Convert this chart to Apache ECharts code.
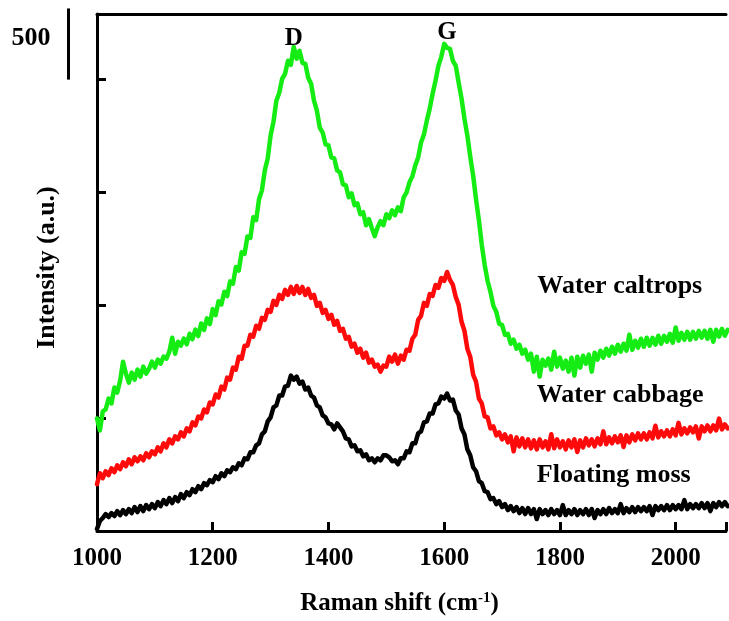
<!DOCTYPE html>
<html>
<head>
<meta charset="utf-8">
<script src="https://cdn.jsdelivr.net/npm/echarts@6/dist/echarts.min.js"></script>
<style>
  html, body { margin: 0; padding: 0; background: #fff; }
  #chart { width: 729px; height: 621px; }
</style>
</head>
<body>
<div id="chart"></div>
<script>
// Raman shift sampling grid (cm-1)
const ramanStart = 1000;
const ramanStep = 5;

// Intensity (counts), one value every 5 cm-1 from 1000 to 2090
const waterCaltrops = [
  791, 707, 840, 854, 931, 896, 1008, 973, 1057, 1190,
  1106, 1043, 1113, 1064, 1134, 1085, 1155, 1106, 1141, 1190,
  1148, 1204, 1176, 1225, 1211, 1260, 1358, 1246, 1330, 1302,
  1352, 1312, 1386, 1348, 1415, 1370, 1458, 1413, 1494, 1454,
  1559, 1517, 1615, 1592, 1681, 1651, 1754, 1738, 1855, 1830,
  1959, 1948, 2070, 2059, 2205, 2184, 2331, 2394, 2534, 2618,
  2779, 2877, 3024, 3080, 3178, 3213, 3304, 3276, 3402, 3318,
  3374, 3290, 3283, 3185, 3143, 3024, 2954, 2835, 2800, 2716,
  2709, 2625, 2618, 2534, 2520, 2436, 2429, 2345, 2373, 2289,
  2303, 2226, 2240, 2149, 2191, 2128, 2072, 2135, 2177, 2149,
  2226, 2198, 2254, 2219, 2275, 2247, 2345, 2380, 2450, 2492,
  2569, 2625, 2730, 2786, 2884, 2968, 3073, 3164, 3269, 3332,
  3423, 3395, 3388, 3304, 3269, 3150, 3038, 2898, 2779, 2632,
  2499, 2331, 2184, 2009, 1869, 1757, 1680, 1582, 1540, 1456,
  1449, 1379, 1386, 1316, 1344, 1281, 1309, 1246, 1274, 1204,
  1246, 1120, 1225, 1085, 1204, 1162, 1211, 1134, 1260, 1155,
  1218, 1141, 1197, 1120, 1218, 1092, 1225, 1148, 1232, 1176,
  1239, 1120, 1253, 1204, 1267, 1218, 1281, 1232, 1295, 1246,
  1309, 1260, 1316, 1267, 1380, 1274, 1337, 1288, 1351, 1295,
  1358, 1302, 1358, 1309, 1372, 1316, 1372, 1330, 1386, 1323,
  1430, 1337, 1393, 1344, 1400, 1344, 1400, 1351, 1407, 1358,
  1407, 1351, 1414, 1330, 1414, 1365, 1421, 1372, 1414
];

const waterCabbage = [
  329, 406, 371, 420, 392, 441, 413, 462, 434, 483,
  455, 504, 469, 518, 490, 525, 497, 546, 518, 560,
  539, 588, 560, 616, 588, 644, 616, 665, 644, 693,
  665, 721, 700, 763, 742, 805, 791, 854, 833, 903,
  889, 959, 938, 1015, 994, 1078, 1064, 1148, 1134, 1225,
  1211, 1302, 1302, 1379, 1365, 1442, 1421, 1498, 1484, 1554,
  1540, 1617, 1589, 1659, 1631, 1694, 1659, 1715, 1666, 1722,
  1673, 1715, 1659, 1701, 1638, 1659, 1582, 1603, 1533, 1554,
  1491, 1519, 1449, 1477, 1407, 1421, 1351, 1365, 1295, 1316,
  1253, 1281, 1218, 1253, 1183, 1204, 1155, 1169, 1120, 1162,
  1155, 1225, 1190, 1239, 1176, 1232, 1204, 1274, 1267, 1351,
  1379, 1484, 1512, 1603, 1582, 1666, 1652, 1729, 1708, 1778,
  1757, 1820, 1764, 1729, 1645, 1589, 1470, 1407, 1281, 1225,
  1099, 1050, 931, 896, 805, 798, 721, 735, 672, 693,
  644, 679, 623, 665, 560, 658, 595, 651, 588, 644,
  581, 637, 574, 644, 588, 630, 574, 680, 581, 644,
  588, 630, 574, 637, 588, 644, 555, 637, 588, 651,
  602, 644, 595, 651, 609, 700, 609, 658, 616, 665,
  623, 672, 590, 672, 623, 679, 637, 686, 644, 686,
  644, 693, 651, 740, 658, 700, 665, 707, 665, 714,
  672, 760, 679, 721, 686, 728, 693, 735, 650, 735,
  700, 742, 700, 742, 707, 790, 714, 749, 721
];

const floatingMoss = [
  14, 70, 91, 119, 98, 126, 105, 140, 112, 147,
  119, 154, 126, 168, 133, 175, 140, 182, 154, 189,
  161, 203, 175, 217, 189, 231, 196, 238, 210, 259,
  231, 273, 252, 294, 273, 315, 294, 336, 322, 357,
  343, 385, 364, 406, 385, 427, 413, 448, 434, 476,
  462, 511, 504, 553, 553, 602, 616, 679, 700, 770,
  798, 868, 882, 952, 952, 1015, 1022, 1092, 1064, 1085,
  1036, 1050, 994, 1008, 952, 938, 882, 868, 812, 798,
  756, 749, 714, 756, 728, 700, 651, 644, 595, 602,
  560, 567, 525, 539, 497, 511, 483, 511, 497, 532,
  532, 518, 490, 497, 469, 511, 511, 560, 553, 616,
  616, 686, 700, 763, 770, 826, 826, 889, 896, 945,
  931, 966, 917, 924, 847, 819, 721, 679, 574, 532,
  448, 420, 350, 336, 280, 273, 224, 231, 189, 210,
  168, 189, 147, 175, 140, 168, 126, 161, 119, 161,
  119, 154, 84, 154, 119, 147, 112, 154, 119, 147,
  112, 182, 112, 147, 119, 154, 112, 147, 119, 154,
  112, 154, 91, 147, 119, 154, 119, 161, 126, 154,
  126, 189, 126, 161, 133, 168, 133, 168, 140, 168,
  140, 175, 112, 175, 147, 175, 147, 182, 147, 182,
  154, 182, 154, 217, 154, 189, 161, 189, 161, 196,
  161, 196, 140, 196, 168, 203, 175, 203, 175
];

const seriesNames = ['Water caltrops', 'Water cabbage', 'Floating moss'];
const seriesColors = ['#14ec14', '#ff0a0a', '#000000'];
// label anchor positions [Raman shift, intensity]
const seriesLabelAnchors = [[1761, 1722], [1760, 952], [1760, 392]];
const peakLabels = ['D', 'G'];
const peakAnchors = [[1340, 3458], [1605, 3500]];
const xTicks = [1000, 1200, 1400, 1600, 1800, 2000];
const scaleBarCounts = 500;
const scaleBarBase = 3172;

const xMin = 1000, xMax = 2087;
const yMax = 3633, yInterval = 793;

function toPairs(vals) {
  return vals.map((v, i) => [ramanStart + i * ramanStep, v]);
}

const FONT = '"Liberation Serif", "Times New Roman", serif';
const chart = echarts.init(document.getElementById('chart'), null, { renderer: 'canvas' });

const allData = [waterCaltrops, waterCabbage, floatingMoss];

chart.setOption({
  animation: false,
  backgroundColor: '#ffffff',
  grid: { left: 97, top: 14, bottom: 88, right: 0, show: false },
  xAxis: [{
    type: 'value',
    min: xMin, max: xMax, interval: 200,
    axisLine: { show: true, onZero: false, lineStyle: { color: '#000', width: 3 } },
    axisTick: { show: true, inside: true, length: 9, lineStyle: { color: '#000', width: 3 } },
    axisLabel: {
      show: true, margin: 15, color: '#000', fontFamily: FONT, fontWeight: 'bold', fontSize: 25,
      formatter: v => (xTicks.indexOf(v) >= 0 ? String(v) : '')
    },
    splitLine: { show: false },
    name: 'Raman shift (cm{sup|-1})',
    nameLocation: 'middle',
    nameGap: 60,
    nameTextStyle: {
      color: '#000', fontFamily: FONT, fontWeight: 'bold', fontSize: 25,
      padding: [0, 24, 0, 0],
      rich: {
        sup: { fontFamily: FONT, fontWeight: 'bold', fontSize: 15, color: '#000', verticalAlign: 'top', padding: [0, 0, 10, 0] }
      }
    }
  }, {
    type: 'value', position: 'top',
    min: xMin, max: xMax,
    axisLine: { show: true, onZero: false, lineStyle: { color: '#000', width: 3 } },
    axisTick: { show: false }, axisLabel: { show: false }, splitLine: { show: false }
  }],
  yAxis: {
    type: 'value',
    min: 0, max: yMax, interval: yInterval,
    axisLine: { show: true, onZero: false, lineStyle: { color: '#000', width: 3 } },
    axisTick: { show: true, inside: true, length: 9, lineStyle: { color: '#000', width: 3 } },
    axisLabel: { show: false },
    splitLine: { show: false },
    name: 'Intensity (a.u.)',
    nameLocation: 'middle',
    nameGap: 37,
    nameTextStyle: {
      color: '#000', fontFamily: FONT, fontWeight: 'bold', fontSize: 26,
      padding: [0, 0, 0, 10]
    }
  },
  series: allData.map((d, i) => ({
    name: seriesNames[i],
    type: 'line',
    xAxisIndex: 0,
    data: toPairs(d),
    showSymbol: false,
    symbol: 'none',
    smooth: false,
    clip: true,
    lineStyle: { color: seriesColors[i], width: 4.5, join: 'round', cap: 'round' },
    itemStyle: { color: seriesColors[i] },
    z: 3 - i
  }))
});

// Annotations positioned through the chart's own scales
const graphics = [];
seriesNames.forEach((name, i) => {
  const p = chart.convertToPixel({ gridIndex: 0 }, seriesLabelAnchors[i]);
  graphics.push({
    type: 'text', x: p[0], y: p[1], z: 10,
    style: { text: name, fill: '#000', font: 'bold 26px ' + FONT, textAlign: 'left', textVerticalAlign: 'middle' }
  });
});
peakLabels.forEach((lab, i) => {
  const p = chart.convertToPixel({ gridIndex: 0 }, peakAnchors[i]);
  graphics.push({
    type: 'text', x: p[0], y: p[1], z: 10,
    style: { text: lab, fill: '#000', font: 'bold 25px ' + FONT, textAlign: 'center', textVerticalAlign: 'middle' }
  });
});
// scale bar of 500 counts, to the left of the axis
const yBot = chart.convertToPixel({ yAxisIndex: 0 }, scaleBarBase);
const yTop = chart.convertToPixel({ yAxisIndex: 0 }, scaleBarBase + scaleBarCounts);
graphics.push({
  type: 'line', z: 10,
  shape: { x1: 68.5, y1: yTop, x2: 68.5, y2: yBot },
  style: { stroke: '#000', lineWidth: 3 }
});
graphics.push({
  type: 'text', x: 31, y: (yTop + yBot) / 2 - 6, z: 10,
  style: { text: String(scaleBarCounts), fill: '#000', font: 'bold 26px ' + FONT, textAlign: 'center', textVerticalAlign: 'middle' }
});
chart.setOption({ graphic: graphics });
</script>
</body>
</html>
